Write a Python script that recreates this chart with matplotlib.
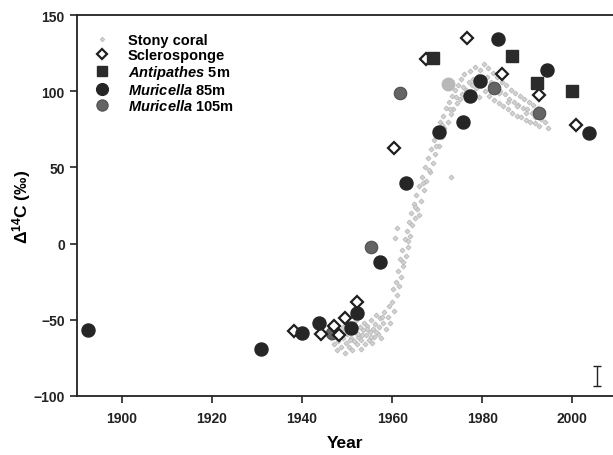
import matplotlib
matplotlib.use("Agg")
import matplotlib.pyplot as plt

plt.rcParams['font.family'] = ['Liberation Sans', 'DejaVu Sans']
plt.rcParams['font.weight'] = 'bold'
plt.rcParams['mathtext.fontset'] = 'custom'
plt.rcParams['mathtext.rm'] = 'Liberation Sans:bold'
plt.rcParams['mathtext.it'] = 'Liberation Sans:italic:bold'
plt.rcParams['mathtext.bf'] = 'Liberation Sans:bold'

# ---------------- data ----------------

# stony coral: small grey points forming the bomb curve
coral_year = [1946.5, 1947, 1947.5, 1947.8, 1948, 1948.3, 1948.6, 1949, 1949.2, 1949.5,
              1949.8, 1950, 1950.3, 1950.5, 1950.8, 1951, 1951.2, 1951.5, 1951.8, 1952,
              1952.2, 1952.5, 1952.8, 1953, 1953.2, 1953.5, 1953.8, 1954, 1954.2, 1954.5,
              1954.8, 1955, 1955.2, 1955.5, 1955.8, 1956, 1956.2, 1956.5, 1956.8, 1957,
              1957.3, 1957.6, 1958, 1958.3, 1958.6, 1959, 1959.3, 1959.6,
              1960, 1960.3, 1960.5, 1960.8, 1961, 1961.2, 1961.5, 1961.8, 1962, 1962.2,
              1962.5, 1962.8, 1963, 1963.2, 1963.5, 1963.8, 1964, 1964.2, 1964.5, 1964.8,
              1965, 1965.3, 1965.6, 1966, 1966.3, 1966.6, 1967, 1967.3, 1967.6, 1968,
              1968.3, 1968.6, 1969, 1969.3, 1969.6, 1970, 1970.3, 1970.6, 1971, 1971.3,
              1971.6, 1972, 1972.3, 1972.6, 1973, 1973.3, 1973.6, 1974, 1974.3, 1974.6,
              1975, 1975.3, 1975.6, 1976, 1976.3, 1976.6, 1977, 1977.3, 1977.6, 1978,
              1978.3, 1978.6, 1979, 1979.3, 1979.6, 1980, 1980.3, 1980.6, 1981, 1981.3,
              1981.6, 1982, 1982.3, 1982.6, 1983, 1983.3, 1983.6, 1984, 1984.3, 1984.6,
              1985, 1985.3, 1985.6, 1986, 1986.3, 1986.6, 1987, 1987.3, 1987.6, 1988,
              1988.3, 1988.6, 1989, 1989.3, 1989.6, 1990, 1990.3, 1990.6, 1991, 1991.3,
              1991.6, 1992, 1992.3, 1992.6, 1993, 1993.5, 1994, 1994.5,
              1960.6, 1961, 1966, 1973,
              # extra points filling out the band
              1949.1, 1950.6, 1951.4, 1952.4, 1953.4, 1954.4, 1955.4, 1956.4, 1957.8,
              1962.4, 1963.6, 1965.1, 1966.8, 1968.1, 1969.8, 1971.1, 1972.8, 1974.2,
              1975.8, 1977.8, 1979.8, 1981.8, 1983.8, 1985.8, 1987.8, 1989.8, 1991.8]
coral_d14c = [-62, -66, -60, -70, -64, -57, -68, -62, -55, -72,
              -65, -59, -52, -68, -62, -56, -70, -64, -58, -50,
              -66, -61, -55, -69, -63, -57, -52, -66, -60, -54,
              -63, -58, -50, -65, -56, -61, -53, -47, -59, -55,
              -49, -62, -52, -45, -56, -48, -41, -52,
              -38, -30, -44, -25, -34, -18, -28, -10, -22, -4,
              -15, 3, -8, 8, -2, 14, 5, 20, 12, 26,
              17, 32, 23, 38, 28, 44, 35, 50, 41, 56,
              47, 62, 53, 68, 59, 74, 64, 80, 70, 84,
              76, 89, 80, 93, 85, 97, 88, 101, 92, 104,
              95, 108, 98, 111, 101, 94, 106, 113, 99, 108,
              116, 102, 110, 96, 114, 104, 118, 100, 109, 115,
              97, 106, 112, 94, 103, 109, 92, 100, 106, 90,
              98, 104, 88, 95, 101, 86, 93, 99, 84, 91,
              97, 83, 89, 95, 81, 88, 93, 80, 86, 91,
              79, 84, 89, 77, 82, 87, 80, 76,
              4, 10, 19, 44,
              -58, -63, -54, -59, -60, -56, -61, -58, -48,
              -12, 2, 24, 40, 48, 64, 78, 88, 96,
              103, 104, 108, 104, 99, 93, 90, 86, 83]

sponge_year = [1938.2, 1944.2, 1947.0, 1948.1, 1949.5, 1952.2, 1960.4,
               1967.5, 1976.5, 1984.4, 1992.5, 2000.7]
sponge_d14c = [-57.5, -59.5, -54, -60, -49, -38.5, 63,
               121, 135, 111.5, 97.5, 77.5]

antip_year = [1969.0, 1986.6, 1992.1, 1999.8]
antip_d14c = [122, 123, 105.5, 100]

mur85_year = [1892.5, 1930.9, 1940.0, 1943.7, 1950.8, 1952.2, 1957.3,
              1963.1, 1970.3, 1975.8, 1977.3, 1979.4, 1983.5, 1994.3, 2003.7]
mur85_d14c = [-56.5, -69, -58.5, -52, -55.5, -45.5, -12,
              40, 73, 80, 97, 107, 134, 114, 72.5]

mur105_year = [1946.7, 1955.2, 1961.7, 1982.6, 1992.5]
mur105_d14c = [-58.5, -2, 98.5, 102, 86]

# one paler Muricella 105m sample
pale_year = [1972.4]
pale_d14c = [104.5]

# analytical error bar drawn at the lower right
err_year = [2005.5]
err_d14c = [-87]
err_half = [6.5]

# ---------------- plot ----------------

fig = plt.figure(figsize=(6.13, 4.56), dpi=100)
ax = fig.add_axes([0.125, 0.1294, 0.875, 0.8355])

ax.plot(coral_year, coral_d14c, linestyle='none', marker='D', markersize=2.6,
        markerfacecolor='#d2d2d2', markeredgecolor='#b4b4b4', markeredgewidth=0.5,
        label='Stony coral', zorder=1)
ax.plot(pale_year, pale_d14c, linestyle='none', marker='o', markersize=9,
        markerfacecolor='#b8b8b8', markeredgecolor='#b8b8b8', zorder=2)
ax.plot(mur105_year, mur105_d14c, linestyle='none', marker='o', markersize=9,
        markerfacecolor='#646464', markeredgecolor='#505050', markeredgewidth=0.8,
        label=r'$\it{Muricella}$ 105m', zorder=3)
ax.plot(sponge_year, sponge_d14c, linestyle='none', marker='D', markersize=5.8,
        markerfacecolor='white', markeredgecolor='#1e1e1e', markeredgewidth=1.6,
        label='Sclerosponge', zorder=4)
ax.plot(antip_year, antip_d14c, linestyle='none', marker='s', markersize=8.6,
        markerfacecolor='#2b2b2b', markeredgecolor='#2b2b2b',
        label=r'$\it{Antipathes}$ 5m', zorder=5)
ax.plot(mur85_year, mur85_d14c, linestyle='none', marker='o', markersize=9.4,
        markerfacecolor='#262626', markeredgecolor='#262626',
        label=r'$\it{Muricella}$ 85m', zorder=6)

ax.errorbar(err_year, err_d14c, yerr=err_half, fmt='none', ecolor='#222222',
            elinewidth=1.0, capsize=3, capthick=1.0)

ax.set_xlim(1890, 2009)
ax.set_ylim(-100, 150)
ax.set_xticks([1900, 1920, 1940, 1960, 1980, 2000])
ax.set_yticks([-100, -50, 0, 50, 100, 150])

ax.spines['right'].set_visible(False)
for s in ['left', 'bottom', 'top']:
    ax.spines[s].set_linewidth(1.3)
    ax.spines[s].set_color('#222222')

ax.tick_params(direction='out', length=5, width=1.2, labelsize=10, colors='#222222')
ax.tick_params(axis='x', pad=6)
for lab in ax.get_xticklabels() + ax.get_yticklabels():
    lab.set_fontweight('bold')

ax.set_xlabel('Year', fontsize=12.5, fontweight='bold', labelpad=7)
ax.set_ylabel(r'$\Delta^{14}$C (‰)', fontsize=12.5, fontweight='bold', labelpad=0)

# legend order as in the figure
handles, labels = ax.get_legend_handles_labels()
order = ['Stony coral', 'Sclerosponge', r'$\it{Antipathes}$ 5m',
         r'$\it{Muricella}$ 85m', r'$\it{Muricella}$ 105m']
hmap = dict(zip(labels, handles))
ax.legend([hmap[k] for k in order], order, loc='upper left',
          bbox_to_anchor=(95 / 613, 1 - 34 / 456), bbox_transform=fig.transFigure,
          frameon=False, fontsize=10.5, handlelength=1.0, handletextpad=1.25,
          labelspacing=0.07, borderpad=0, borderaxespad=0, markerscale=0.9)

fig.savefig('out.png', dpi=100)
